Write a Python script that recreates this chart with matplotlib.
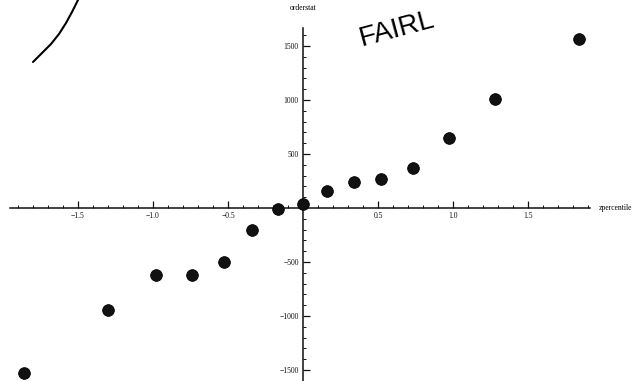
"""Normal probability plot (order statistic vs z-percentile), scanned Mathematica look."""
import matplotlib
matplotlib.use("Agg")
import matplotlib.pyplot as plt
import numpy as np
from matplotlib.lines import Line2D
from matplotlib.ticker import FixedLocator

plt.rcParams.update({
    "font.family": ["Liberation Serif", "DejaVu Serif"],
    "font.size": 5.5,
})

# values
zpercentile = [-1.86, -1.30, -0.98, -0.74, -0.53, -0.34, -0.17, 0.0,
               0.16, 0.34, 0.52, 0.73, 0.97, 1.28, 1.84]
orderstat = [-1525, -945, -620, -620, -500, -200, -5, 40,
             160, 245, 270, 375, 645, 1010, 1565]
x_ticks = [-1.5, -1.0, -0.5, 0.5, 1.0, 1.5]
y_ticks = [-1500, -1000, -500, 500, 1000, 1500]

W, H, DPI = 644, 381, 100
fig = plt.figure(figsize=(W / DPI, H / DPI), dpi=DPI)
ax = fig.add_axes([0, 0, 1, 1])

ax.plot(zpercentile, orderstat, "o", ms=8.4, color="#111111", mec="#000000",
        mew=0.6, zorder=3)

# origin at pixel (303, 208); 150 px per unit in x, 0.108 px per unit in y
ax.set_xlim(-303 / 150, (W - 303) / 150)
ax.set_ylim(-(H - 208) / 0.108, 208 / 0.108)

for s in ("top", "right"):
    ax.spines[s].set_visible(False)
ax.spines["left"].set_position(("data", 0))
ax.spines["bottom"].set_position(("data", 0))
ax.spines["bottom"].set_bounds(-1.95, 1.91)
ax.spines["left"].set_bounds(-1610, 1665)
for s in ("left", "bottom"):
    ax.spines[s].set_linewidth(1.1)
    ax.spines[s].set_color("#111111")

ax.set_xticks(x_ticks)
ax.set_xticklabels([f"{v:.1f}".replace("-", "\u2212") for v in x_ticks])
ax.set_yticks(y_ticks)
ax.set_yticklabels([f"{v}".replace("-", "\u2212") for v in y_ticks])
ax.xaxis.set_minor_locator(FixedLocator(np.arange(-1.9, 1.91, 0.1)))
ax.yaxis.set_minor_locator(FixedLocator(np.arange(-1600, 1601, 100)))
ax.tick_params(which="major", direction="in", length=5, width=0.9, pad=3,
               colors="#111111")
ax.tick_params(which="minor", direction="in", length=2.5, width=0.7,
               colors="#111111")

ax.text(0.0, 1855, "orderstat", ha="center", va="center", fontsize=5.5)
ax.text(1.97, 0, "zpercentile", ha="left", va="center", fontsize=5.5)

# handwritten marks on the scan
pen_x = [33, 42, 51, 59, 66, 72, 78]
pen_y = [62, 53, 44, 34, 23, 12, 0]
fig.add_artist(Line2D([v / W for v in pen_x], [1 - v / H for v in pen_y],
                      color="black", lw=1.5, solid_capstyle="round",
                      solid_joinstyle="round"))
fig.text(357 / W, 1 - 46 / H, "FAIRL", fontsize=20, rotation=15,
         family="Liberation Sans", ha="left", va="baseline")

fig.savefig("out.png", dpi=DPI)
